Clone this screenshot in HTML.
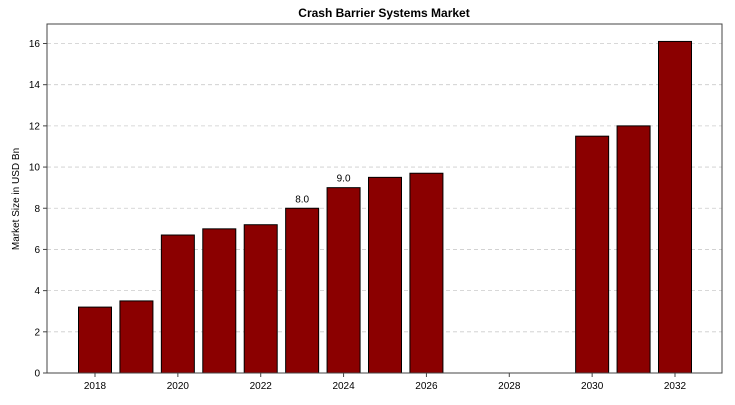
<!DOCTYPE html>
<html><head><meta charset="utf-8"><style>
body{margin:0;background:#fff;font-family:"Liberation Sans",sans-serif;}
</style></head><body>
<svg width="735" height="400" xmlns="http://www.w3.org/2000/svg">
<text x="384" y="17" text-anchor="middle" font-size="12" font-weight="bold">Crash Barrier Systems Market</text>
<text transform="translate(19,199) rotate(-90)" text-anchor="middle" font-size="10">Market Size in USD Bn</text>
<g id="grid"></g><g id="bars"></g><g id="axes"></g>
<rect x="47" y="24" width="675" height="349" fill="none" stroke="#444" stroke-width="1"/>
</svg>
<script>
const years=[2018,2019,2020,2021,2022,2023,2024,2025,2026,2030,2031,2032];
const values=[3.2,3.5,6.7,7.0,7.2,8.0,9.0,9.5,9.7,11.5,12.0,16.1];
const labeledYears=[2023,2024];
const yTicks=[0,2,4,6,8,10,12,14,16];
const xTicks=[2018,2020,2022,2024,2026,2028,2030,2032];
const NS="http://www.w3.org/2000/svg";
const x=v=>95+(v-2018)*(580/14);
const y=v=>373-(v)*(329.5/16);
const mk=(t,a)=>{const e=document.createElementNS(NS,t);for(const k in a)e.setAttribute(k,a[k]);return e;};
const grid=document.getElementById('grid'),bars=document.getElementById('bars'),axes=document.getElementById('axes');
yTicks.forEach(t=>{
 if(t>0){const l=mk('line',{x1:47,x2:722,y1:y(t),y2:y(t),stroke:'#ccc','stroke-dasharray':'4,3','stroke-width':0.8});
 
 grid.appendChild(l);}
 const tk=mk('line',{x1:43,x2:47,y1:y(t),y2:y(t),stroke:'#444'});axes.appendChild(tk);
 const tx=mk('text',{x:40,y:y(t)+3.5,'text-anchor':'end','font-size':10});tx.textContent=t;
 
 axes.appendChild(tx);
});
xTicks.forEach(t=>{
 const tk=mk('line',{x1:x(t),x2:x(t),y1:373,y2:377,stroke:'#444'});axes.appendChild(tk);
 const tx=mk('text',{x:x(t),y:389,'text-anchor':'middle','font-size':10});tx.textContent=t;
 
 axes.appendChild(tx);
});
years.forEach((yr,i)=>{
 const v=values[i];
 const r=mk('rect',{x:x(yr)-16.5,y:y(v),width:33,height:y(0)-y(v),fill:'#8b0000',stroke:'#000','stroke-width':1});
 
 bars.appendChild(r);
 if(labeledYears.includes(yr)){
  const tx=mk('text',{x:x(yr),y:y(v)-6,'text-anchor':'middle','font-size':10});tx.textContent=v.toFixed(1);
  
  bars.appendChild(tx);
 }
});
</script>
</body></html>
